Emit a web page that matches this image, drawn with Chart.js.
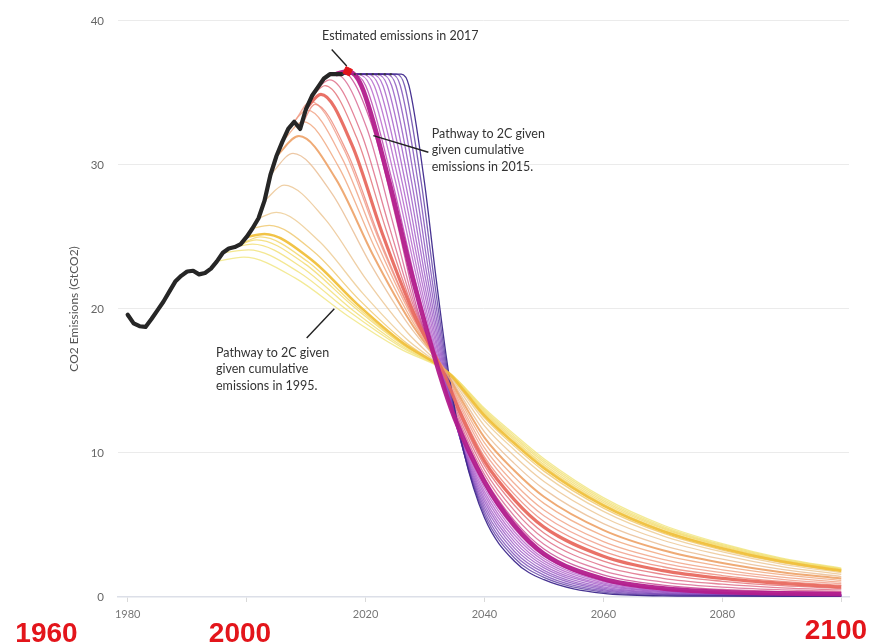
<!DOCTYPE html>
<html><head><meta charset="utf-8">
<script src="https://cdn.jsdelivr.net/npm/chart.js@4.4.1/dist/chart.umd.min.js"></script>
<style>html,body{margin:0;padding:0;background:#fff;}canvas{display:block;}</style>
</head><body>
<canvas id="c" width="871" height="642"></canvas>
<script>
// ---------------- DATA ----------------
const histYears  = [1980,1981,1982,1983,1984,1985,1986,1987,1988,1989,1990,1991,1992,1993,1994,1995,1996,1997,1998,1999,2000,2001,2002,2003,2004,2005,2006,2007,2008,2009,2010,2011,2012,2013,2014,2015,2016];
const histValues = [19.6,19.0,18.8,18.75,19.3,19.9,20.5,21.2,21.9,22.3,22.6,22.65,22.4,22.5,22.8,23.3,23.9,24.2,24.3,24.5,25.0,25.6,26.3,27.5,29.3,30.6,31.6,32.5,33.0,32.5,33.9,34.8,35.4,36.0,36.3,36.3,36.3];
const flatYears  = [2016, 2025];
const flatValues = [36.3, 36.3];
const estimateYear  = [2017];
const estimateValue = [36.5];
const xTickValues = [1980, 2000, 2020, 2040, 2060, 2080, 2100];
const yTickValues = [0, 10, 20, 30, 40];

// pathways to 2C, [year, GtCO2]
const p1995 = [[1995,23.3],[1999.5,23.6],[2008.2,22.14],[2016.9,19.55],[2025.6,17.28],[2034.3,15.5],[2036.8,14.5],[2040,13.1],[2045,11.3],[2050,9.6],[2060,6.9],[2070,5.0],[2080,3.7],[2090,2.7],[2100,2.0]];
const p1996 = [[1996,23.9],[2000.3,24.1],[2008.8,22.55],[2017.3,19.8],[2025.8,17.39],[2034.3,15.5],[2036.8,14.46],[2040,13.0],[2045,11.17],[2050,9.47],[2060,6.79],[2070,4.91],[2080,3.63],[2090,2.65],[2100,1.96]];
const p1997 = [[1997,24.2],[2001.0,24.5],[2009.3,22.88],[2017.6,20.0],[2025.9,17.48],[2034.2,15.5],[2036.7,14.42],[2040,12.9],[2045,11.05],[2050,9.34],[2060,6.67],[2070,4.82],[2080,3.57],[2090,2.6],[2100,1.93]];
const p1998 = [[1998,24.3],[2001.7,24.8],[2009.8,23.13],[2018.0,20.15],[2026.1,17.55],[2034.2,15.5],[2036.7,14.37],[2040,12.79],[2045,10.92],[2050,9.2],[2060,6.56],[2070,4.74],[2080,3.5],[2090,2.55],[2100,1.89]];
const p1999 = [[1999,24.5],[2002.3,25.0],[2010.25,23.29],[2018.2,20.25],[2026.15,17.59],[2034.1,15.5],[2036.6,14.33],[2040,12.69],[2045,10.8],[2050,9.07],[2060,6.45],[2070,4.65],[2080,3.43],[2090,2.5],[2100,1.86]];
const p2000 = [[2000,25.0],[2003.0,25.2],[2010.8,23.45],[2018.55,20.35],[2026.3,17.63],[2034.1,15.5],[2036.6,14.29],[2040,12.59],[2045,10.67],[2050,8.94],[2060,6.34],[2070,4.56],[2080,3.37],[2090,2.46],[2100,1.82]];
const p2001 = [[2001,25.6],[2003.8,25.8],[2011.35,23.95],[2018.9,20.65],[2026.45,17.77],[2034.0,15.5],[2036.5,14.23],[2040,12.44],[2045,10.48],[2050,8.74],[2060,6.17],[2070,4.43],[2080,3.26],[2090,2.38],[2100,1.77]];
const p2002 = [[2002,26.3],[2005.0,26.7],[2012.25,24.68],[2019.5,21.1],[2026.75,17.96],[2034.0,15.5],[2036.5,14.14],[2040,12.23],[2045,10.23],[2050,8.48],[2060,5.94],[2070,4.25],[2080,3.13],[2090,2.28],[2100,1.69]];
const p2003 = [[2003,27.5],[2006.3,28.6],[2013.2,26.24],[2020.1,22.05],[2027.0,18.38],[2033.9,15.5],[2036.4,14.0],[2040,11.88],[2045,9.79],[2050,8.02],[2060,5.54],[2070,3.94],[2080,2.9],[2090,2.11],[2100,1.57]];
const p2004 = [[2004,29.3],[2007.8,30.8],[2014.3,28.05],[2020.8,23.15],[2027.3,18.87],[2033.8,15.5],[2036.3,13.83],[2040,11.47],[2045,9.28],[2050,7.49],[2060,5.09],[2070,3.59],[2080,2.63],[2090,1.92],[2100,1.42]];
const p2005 = [[2005,30.6],[2008.8,32.0],[2015.0,29.03],[2021.25,23.75],[2027.5,19.13],[2033.7,15.5],[2036.2,13.66],[2040,11.06],[2045,8.78],[2050,6.96],[2060,4.64],[2070,3.24],[2080,2.36],[2090,1.72],[2100,1.28]];
const p2006 = [[2006,31.6],[2009.5,33.0],[2015.5,29.85],[2021.55,24.25],[2027.6,19.35],[2033.6,15.5],[2036.1,13.51],[2040,10.7],[2045,8.34],[2050,6.5],[2060,4.24],[2070,2.93],[2080,2.13],[2090,1.55],[2100,1.15]];
const p2007 = [[2007,32.5],[2010.2,33.8],[2016.0,30.51],[2021.85,24.65],[2027.7,19.53],[2033.5,15.5],[2036.0,13.37],[2040,10.35],[2045,7.9],[2050,6.04],[2060,3.85],[2070,2.62],[2080,1.89],[2090,1.38],[2100,1.03]];
const p2008 = [[2008,33.0],[2010.8,34.4],[2016.45,31.0],[2022.1,24.95],[2027.75,19.66],[2033.4,15.5],[2035.9,13.24],[2040,10.04],[2045,7.52],[2050,5.64],[2060,3.51],[2070,2.36],[2080,1.69],[2090,1.23],[2100,0.92]];
const p2009 = [[2009,32.5],[2011.5,34.2],[2016.95,30.83],[2022.4,24.85],[2027.85,19.61],[2033.3,15.5],[2035.8,13.11],[2040,9.73],[2045,7.14],[2050,5.24],[2060,3.17],[2070,2.1],[2080,1.49],[2090,1.08],[2100,0.81]];
const p2010 = [[2010,33.9],[2012.5,34.9],[2017.7,31.41],[2022.85,25.2],[2028.0,19.77],[2033.2,15.5],[2035.7,12.99],[2040,9.43],[2045,6.76],[2050,4.85],[2060,2.83],[2070,1.83],[2080,1.29],[2090,0.94],[2100,0.7]];
const p2011 = [[2011,34.8],[2013.2,35.5],[2018.5,31.9],[2023.45,25.5],[2028.1,19.9],[2033.1,15.5],[2035.6,12.86],[2040,9.12],[2045,6.39],[2050,4.45],[2060,2.49],[2070,1.57],[2080,1.09],[2090,0.79],[2100,0.6]];
const p2012 = [[2012,35.4],[2014.0,35.9],[2019.25,32.23],[2024.0,25.7],[2028.25,19.99],[2033.0,15.5],[2035.5,12.74],[2040,8.82],[2045,6.01],[2050,4.06],[2060,2.15],[2070,1.3],[2080,0.89],[2090,0.64],[2100,0.49]];
const p2013 = [[2013,36.0],[2015.0,36.3],[2020.2,32.56],[2024.65,25.9],[2028.4,20.08],[2032.9,15.5],[2035.4,12.61],[2040,8.51],[2045,5.63],[2050,3.66],[2060,1.82],[2070,1.04],[2080,0.69],[2090,0.5],[2100,0.38]];
const p2014 = [[2014,36.3],[2016.0,36.5],[2021.1,32.72],[2025.3,26.0],[2028.6,20.12],[2032.8,15.5],[2035.3,12.5],[2040,8.26],[2045,5.32],[2050,3.33],[2060,1.53],[2070,0.82],[2080,0.52],[2090,0.37],[2100,0.29]];
const p2015 = [[2015,36.3],[2017,36.5],[2019.3,35.5],[2024,28.8],[2028,22.0],[2032.45,15.5],[2035,12.4],[2040,8.0],[2045,5.0],[2050,3.0],[2060,1.25],[2070,0.6],[2080,0.35],[2090,0.25],[2100,0.2]];
const p2016 = [[2016,36.3],[2017.8,36.3],[2020.03,35.5],[2024.54,28.8],[2028.35,22.0],[2032.59,15.5],[2035.09,12.19],[2040,7.77],[2045,4.77],[2050,2.84],[2060,1.16],[2070,0.55],[2080,0.32],[2100,0.19]];
const p2017 = [[2016,36.3],[2018.6,36.3],[2020.75,35.5],[2025.07,28.8],[2028.71,22.0],[2032.73,15.5],[2035.23,11.98],[2040,7.55],[2045,4.55],[2050,2.67],[2060,1.07],[2070,0.51],[2080,0.3],[2100,0.17]];
const p2018 = [[2016,36.3],[2019.45,36.3],[2021.48,35.5],[2025.61,28.8],[2029.06,22.0],[2032.87,15.5],[2035.37,11.77],[2040,7.32],[2045,4.32],[2050,2.51],[2060,0.98],[2070,0.46],[2080,0.27],[2100,0.16]];
const p2019 = [[2016,36.3],[2020.3,36.3],[2022.21,35.5],[2026.15,28.8],[2029.42,22.0],[2033.01,15.5],[2035.51,11.56],[2040,7.09],[2045,4.09],[2050,2.34],[2060,0.89],[2070,0.41],[2080,0.25],[2100,0.14]];
const p2020 = [[2016,36.3],[2021.1,36.3],[2022.94,35.5],[2026.68,28.8],[2029.77,22.0],[2033.15,15.5],[2035.65,11.36],[2040,6.86],[2045,3.86],[2050,2.18],[2060,0.8],[2070,0.37],[2080,0.22],[2100,0.13]];
const p2021 = [[2016,36.3],[2021.9,36.3],[2023.66,35.5],[2027.22,28.8],[2030.13,22.0],[2033.3,15.5],[2035.8,11.15],[2040,6.64],[2045,3.64],[2050,2.02],[2060,0.7],[2070,0.32],[2080,0.19],[2100,0.12]];
const p2022 = [[2016,36.3],[2022.7,36.3],[2024.39,35.5],[2027.75,28.8],[2030.48,22.0],[2033.44,15.5],[2035.94,10.94],[2040,6.41],[2045,3.41],[2050,1.85],[2060,0.61],[2070,0.27],[2080,0.17],[2100,0.1]];
const p2023 = [[2016,36.3],[2023.55,36.3],[2025.12,35.5],[2028.29,28.8],[2030.84,22.0],[2033.58,15.5],[2036.08,10.73],[2040,6.18],[2045,3.18],[2050,1.69],[2060,0.52],[2070,0.22],[2080,0.14],[2100,0.09]];
const p2024 = [[2016,36.3],[2024.4,36.3],[2025.85,35.5],[2028.83,28.8],[2031.19,22.0],[2033.72,15.5],[2036.22,10.52],[2040,5.95],[2045,2.95],[2050,1.52],[2060,0.43],[2070,0.18],[2080,0.12],[2100,0.07]];
const p2025 = [[2016,36.3],[2025.2,36.3],[2026.57,35.5],[2029.36,28.8],[2031.55,22.0],[2033.86,15.5],[2036.36,10.31],[2040,5.73],[2045,2.73],[2050,1.36],[2060,0.34],[2070,0.13],[2080,0.09],[2100,0.06]];
const p2026 = [[2016,36.3],[2026,36.3],[2027.3,35.5],[2029.9,28.8],[2031.9,22.0],[2034.0,15.5],[2036.5,10.1],[2040,5.5],[2045,2.5],[2050,1.2],[2060,0.25],[2070,0.08],[2080,0.06],[2100,0.05]];

const pathwayStartYears = [1995,1996,1997,1998,1999,2000,2001,2002,2003,2004,2005,2006,2007,2008,2009,2010,2011,2012,2013,2014,2015,2016,2017,2018,2019,2020,2021,2022,2023,2024,2025,2026];
const pathways = [p1995,p1996,p1997,p1998,p1999,p2000,p2001,p2002,p2003,p2004,p2005,p2006,p2007,p2008,p2009,p2010,p2011,p2012,p2013,p2014,p2015,p2016,p2017,p2018,p2019,p2020,p2021,p2022,p2023,p2024,p2025,p2026];

// ---------------- STYLE ----------------
const colorStops = [
  [0,[240,228,120]],[4,[242,212,95]],[5,[240,192,60]],[7,[236,200,140]],[9,[232,185,140]],
  [10,[238,165,110]],[13,[240,150,130]],[15,[232,105,95]],[18,[215,95,140]],[20,[178,28,140]],
  [22,[180,90,200]],[26,[150,80,195]],[29,[115,65,180]],[31,[62,40,140]]
];
function colorFor(k, a) {
  for (let i = 0; i < colorStops.length - 1; i++) {
    const [k0, c0] = colorStops[i], [k1, c1] = colorStops[i + 1];
    if (k >= k0 && k <= k1) {
      const t = (k - k0) / (k1 - k0);
      const c = c0.map((v, j) => Math.round(v + (c1[j] - v) * t));
      return `rgba(${c[0]},${c[1]},${c[2]},${a})`;
    }
  }
  return 'rgba(0,0,0,1)';
}
const thickWidths = {2000: 2.6, 2005: 2.0, 2010: 3.2, 2015: 4.6};
const thickOrder  = {2000: 6, 2005: 5, 2010: 4, 2015: 3};

const datasets = [];
pathways.forEach((pts, k) => {
  const yr = pathwayStartYears[k];
  const thick = thickWidths[yr];
  datasets.push({
    label: 'Pathway ' + yr,
    data: pts.map(p => ({x: p[0], y: p[1]})),
    borderColor: colorFor(k, thick ? 0.95 : (k === 31 ? 0.95 : 0.78)),
    borderWidth: thick || 1.3,
    pointRadius: 0,
    cubicInterpolationMode: 'monotone',
    fill: false,
    order: thick ? thickOrder[yr] : 100 - k
  });
});
datasets.push({
  label: 'Historical',
  data: histYears.map((x, i) => ({x, y: histValues[i]})),
  borderColor: '#262626', borderWidth: 4.2, pointRadius: 0,
  borderJoinStyle: 'round', borderCapStyle: 'round', order: 2
});
datasets.push({
  label: 'Flat',
  data: flatYears.map((x, i) => ({x, y: flatValues[i]})),
  borderColor: '#3a3a3a', borderWidth: 2, borderDash: [2, 4], pointRadius: 0, order: 1
});
datasets.push({
  label: 'Estimate 2017',
  data: estimateYear.map((x, i) => ({x, y: estimateValue[i]})),
  showLine: false, pointRadius: 5, pointStyle: 'rect', rotation: 25,
  backgroundColor: '#e3151b', borderColor: '#e3151b', order: 0
});

// annotations (anchored in data units)
const notes = [
  {x: 2012.68, y: 38.96, lines: ['Estimated emissions in 2017']},
  {x: 2031.13, y: 32.15, lines: ['Pathway to 2C given', 'given cumulative', 'emissions in 2015.']},
  {x: 1994.85, y: 16.95, lines: ['Pathway to 2C given', 'given cumulative', 'emissions in 1995.']}
];
const pointers = [
  [2014.31, 38.02, 2016.83, 36.87],
  [2021.31, 32.03, 2030.56, 30.88],
  [2014.75, 20.01, 2010.1, 17.98]
];
const bigLabels = [
  {text: '1960', cx: 46.5, base: 642},
  {text: '2000', cx: 240, base: 642},
  {text: '2100', cx: 836, base: 639}
];

const notePlugin = {
  id: 'notes',
  afterDatasetsDraw(chart) {
    const {ctx, scales: {x, y}} = chart;
    ctx.save();
    ctx.strokeStyle = '#222';
    ctx.lineWidth = 1.4;
    pointers.forEach(p => {
      ctx.beginPath();
      ctx.moveTo(x.getPixelForValue(p[0]), y.getPixelForValue(p[1]));
      ctx.lineTo(x.getPixelForValue(p[2]), y.getPixelForValue(p[3]));
      ctx.stroke();
    });
    ctx.fillStyle = '#333';
    ctx.font = '12.5px Lato';
    ctx.textAlign = 'left';
    ctx.textBaseline = 'middle';
    notes.forEach(n => {
      const px = x.getPixelForValue(n.x), py = y.getPixelForValue(n.y);
      n.lines.forEach((t, i) => ctx.fillText(t, px, py + i * 16.5));
    });
    ctx.restore();
  },
  afterDraw(chart) {
    const ctx = chart.ctx;
    ctx.save();
    ctx.fillStyle = '#e3151b';
    ctx.font = 'bold 28px "Liberation Sans"';
    ctx.textAlign = 'center';
    ctx.textBaseline = 'alphabetic';
    bigLabels.forEach(l => ctx.fillText(l.text, l.cx, l.base));
    ctx.restore();
  }
};

Chart.defaults.font.family = 'Lato';
new Chart(document.getElementById('c'), {
  type: 'line',
  data: {datasets},
  plugins: [notePlugin],
  options: {
    responsive: false,
    animation: false,
    devicePixelRatio: 1,
    layout: {padding: {top: 18, right: 22, bottom: 0, left: 0}},
    plugins: {legend: {display: false}, tooltip: {enabled: false}},
    scales: {
      x: {
        type: 'linear', min: 1978.37, max: 2101.3,
        afterBuildTicks: s => { s.ticks = xTickValues.map(v => ({value: v})); },
        afterFit: s => { s.height = 45; },
        ticks: {
          callback: v => (v === 2000 || v === 2100) ? '' : String(v),
          color: '#777', font: {size: 11}, padding: 6, maxRotation: 0, autoSkip: false
        },
        grid: {drawOnChartArea: false, drawTicks: true, tickLength: 5, color: '#d9d9d9'},
        border: {display: true, color: '#dcdfe8', width: 1.5}
      },
      y: {
        min: 0, max: 40,
        afterBuildTicks: s => { s.ticks = yTickValues.map(v => ({value: v})); },
        afterFit: s => { s.width = 118; },
        ticks: {color: '#666', font: {size: 11.5}, padding: 14},
        grid: {drawTicks: false, color: c => c.tick && c.tick.value === 0 ? 'rgba(0,0,0,0)' : '#ebebeb'},
        border: {display: false},
        title: {display: true, text: 'CO2 Emissions (GtCO2)', color: '#555', font: {size: 12}, padding: {top: 67, bottom: 0}}
      }
    }
  }
});
</script>
</body></html>
